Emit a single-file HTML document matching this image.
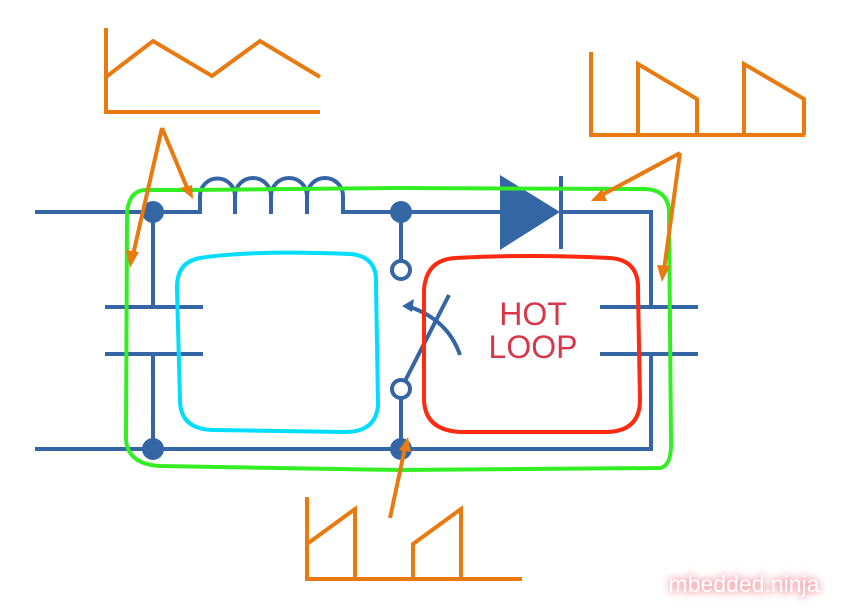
<!DOCTYPE html>
<html><head><style>
html,body{margin:0;padding:0;background:#fff;width:851px;height:615px;overflow:hidden}
svg{display:block}
</style></head><body>
<svg width="851" height="615" viewBox="0 0 851 615" xmlns="http://www.w3.org/2000/svg">
<defs>
<filter id="glow" x="-20%" y="-60%" width="140%" height="220%"><feGaussianBlur stdDeviation="4"/></filter>
</defs>
<g fill="none" stroke="#3465a4" stroke-width="4">
<path d="M35,212 H200 V196 A17.5,17.5 0 0 1 235,196 V214 V196 A18,18 0 0 1 271,196 V214 V196 A18,18 0 0 1 307,196 V214 V196 A18,18 0 0 1 343,196 V212 H500"/>
<path d="M560,212 H651 V307"/>
<path d="M600,307 H698 M600,354 H698"/>
<path d="M651,354 V449 H35"/>
<path d="M153,212 V307 M105,307 H203 M105,354 H203 M153,354 V449"/>
<path d="M401,212 V262 M401,398 V449"/>
<path d="M405,381 L449,295"/>
<path d="M460,355 Q448,320 410,307"/>
<path d="M561,176 V249"/>
</g>
<circle cx="401" cy="270" r="9" fill="#fff" stroke="#3465a4" stroke-width="4"/>
<circle cx="401" cy="389" r="9" fill="#fff" stroke="#3465a4" stroke-width="4"/>
<polygon points="402,306 414,299 412,312" fill="#3465a4"/>
<polygon points="500,175 560,212 500,250" fill="#3465a4"/>
<g fill="#3465a4">
<circle cx="153" cy="212" r="11"/><circle cx="153" cy="449" r="11"/>
<circle cx="401" cy="212" r="11"/><circle cx="401" cy="449" r="11"/>
</g>
<g fill="none" stroke-width="4">
<path d="M150,190 Q128,188 127,215 L126,440 Q128,464 160,466 L400,470 L660,468 Q672,466 671,440 L669,215 Q670,190 645,189 L400,188 L190,190 Z" stroke="#33ee22"/>
<path d="M200,258 Q250,250 350,254 Q378,256 376,285 L378,405 Q376,432 345,432 L215,430 Q180,430 180,400 L177,290 Q176,262 200,258 Z" stroke="#00ddff"/>
<path d="M455,258 Q530,254 610,258 Q640,260 638,292 L640,400 Q640,432 605,432 L460,432 Q425,430 424,400 L424,290 Q426,260 455,258 Z" stroke="#ff2a10"/>
</g>
<text x="533" y="325" font-family="Liberation Sans, sans-serif" font-size="32" fill="#d9364a" text-anchor="middle">HOT</text>
<text x="533" y="358" font-family="Liberation Sans, sans-serif" font-size="32" fill="#d9364a" text-anchor="middle">LOOP</text>
<g fill="none" stroke="#e87a10" stroke-width="4">
<path d="M106,28 V112 H320"/>
<path d="M106,77 L153,41 L212,76 L260,41 L320,77"/>
<path d="M591,52 V135 H805"/>
<path d="M638,135 V64 L697,99 V135 M744,135 V64 L804,99 V135"/>
<path d="M307,497 V579 H522"/>
<path d="M307,544 L355,509 V579 M413,579 V544 L461,509 V579"/>
<path d="M162,128 L133,255 M162,128 L188,190"/>
<path d="M680,153 L600,196 M680,153 L664,270"/>
<path d="M390,518 L405,448"/>
</g>
<g fill="#e87a10">
<polygon points="130,268 126,250 139,252"/>
<polygon points="193,199 180,188 192,185"/>
<polygon points="591,201 602,189 607,201"/>
<polygon points="662,282 657,265 670,266"/>
<polygon points="408,437 411,452 399,450"/>
</g>
<text x="744" y="592" font-family="Liberation Sans, sans-serif" font-size="23" fill="#f4a0aa" text-anchor="middle" filter="url(#glow)" stroke="#f4a0aa" stroke-width="2">mbedded.ninja</text>
<text x="744" y="592" font-family="Liberation Sans, sans-serif" font-size="23" fill="#fff" text-anchor="middle">mbedded.ninja</text>
</svg>
</body></html>
